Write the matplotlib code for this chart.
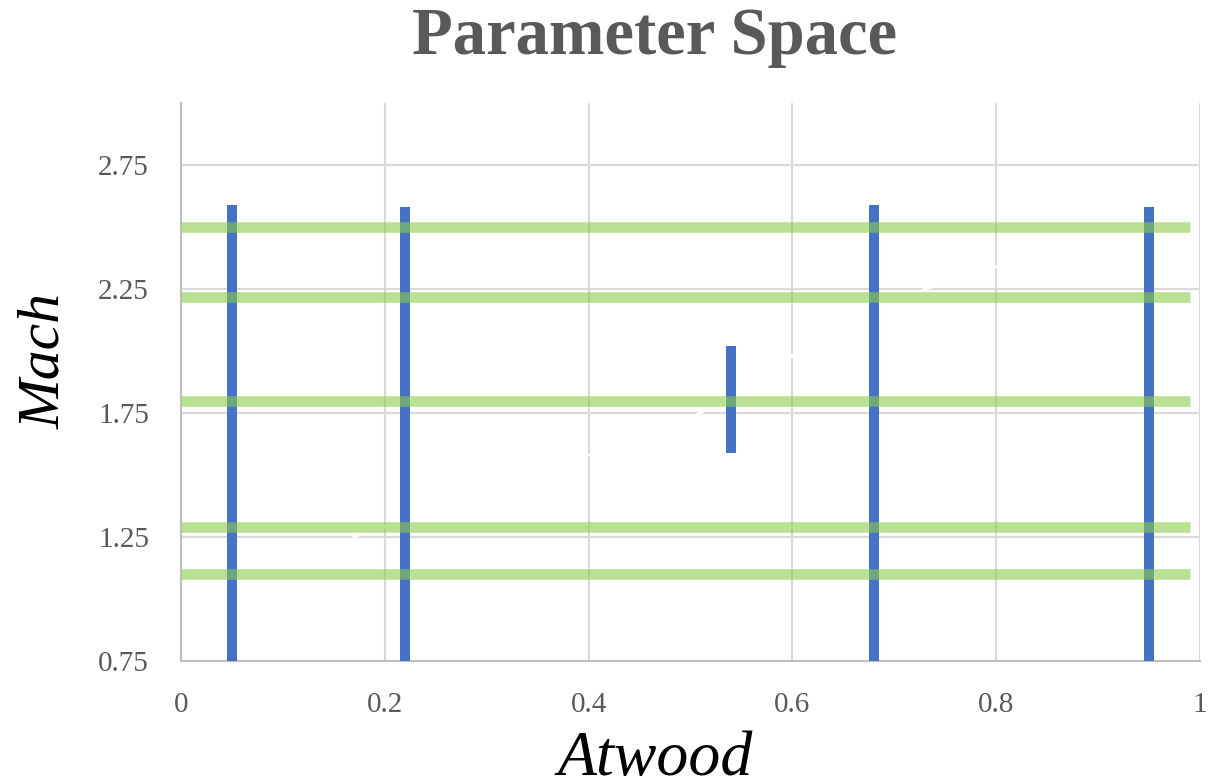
import matplotlib.pyplot as plt

# vertical sweeps: Atwood number held fixed, Mach range covered
atwood_fixed = [0.05, 0.22, 0.68, 0.95, 0.54]
mach_low = [0.75, 0.75, 0.75, 0.75, 1.59]
mach_high = [2.59, 2.58, 2.59, 2.58, 2.02]

# horizontal sweeps: Mach held fixed, Atwood range covered
mach_fixed = [2.50, 2.22, 1.80, 1.29, 1.10]
atwood_low = [0.0, 0.0, 0.0, 0.0, 0.0]
atwood_high = [0.99, 0.99, 0.99, 0.99, 0.99]

# faint white trace left in the chart
trace_atwood = [0.17, 0.40, 0.51, 0.60, 0.73, 0.80]
trace_mach = [1.25, 1.58, 1.75, 1.98, 2.25, 2.34]

x_ticks = [0, 0.2, 0.4, 0.6, 0.8, 1.0]
x_labels = ["0", "0.2", "0.4", "0.6", "0.8", "1"]
y_ticks = [0.75, 1.25, 1.75, 2.25, 2.75]
y_labels = ["0.75", "1.25", "1.75", "2.25", "2.75"]

serif = ["Liberation Serif", "DejaVu Serif"]
text_color = "#595959"

fig = plt.figure(figsize=(12.17, 7.81), dpi=100)
ax = fig.add_axes([0.1487, 0.1536, 0.8373, 0.7144])

ax.vlines(atwood_fixed, mach_low, mach_high, color="#4472C4", linewidth=7.2, zorder=3)
ax.hlines(mach_fixed, atwood_low, atwood_high, color=(140/255, 204/255, 75/255),
          alpha=0.6, linewidth=7.6, zorder=4)
ax.plot(trace_atwood, trace_mach, color="white", linewidth=2, zorder=2)

ax.set_xlim(0, 1)
ax.set_ylim(0.75, 3.0)
ax.set_xticks(x_ticks)
ax.set_xticklabels(x_labels)
ax.set_yticks(y_ticks)
ax.set_yticklabels(y_labels)

ax.grid(True, color="#d9d9d9", linewidth=1.5, zorder=0)
ax.set_axisbelow(True)
ax.tick_params(length=0, labelsize=21, labelcolor=text_color)
ax.tick_params(axis="x", pad=22)
ax.tick_params(axis="y", pad=23)
for lab in ax.get_xticklabels() + ax.get_yticklabels():
    lab.set_family(serif)

for side in ["top", "right"]:
    ax.spines[side].set_visible(False)
ax.spines["left"].set_color("#bfbfbf")
ax.spines["bottom"].set_color("#bfbfbf")
ax.spines["left"].set_linewidth(1.5)
ax.spines["bottom"].set_linewidth(1.5)

fig.text(0.538, 0.931, "Parameter Space", ha="center", va="baseline",
         fontsize=48, fontweight="bold", color=text_color, family=serif)
fig.text(0.059, 0.538, "Mach", ha="right", va="center", rotation=90,
         fontsize=43, style="italic", color="black", family=serif)
fig.text(0.538, 0.008, "Atwood", ha="center", va="baseline",
         fontsize=46, style="italic", color="black", family=serif)

fig.savefig("out.png", dpi=100)
